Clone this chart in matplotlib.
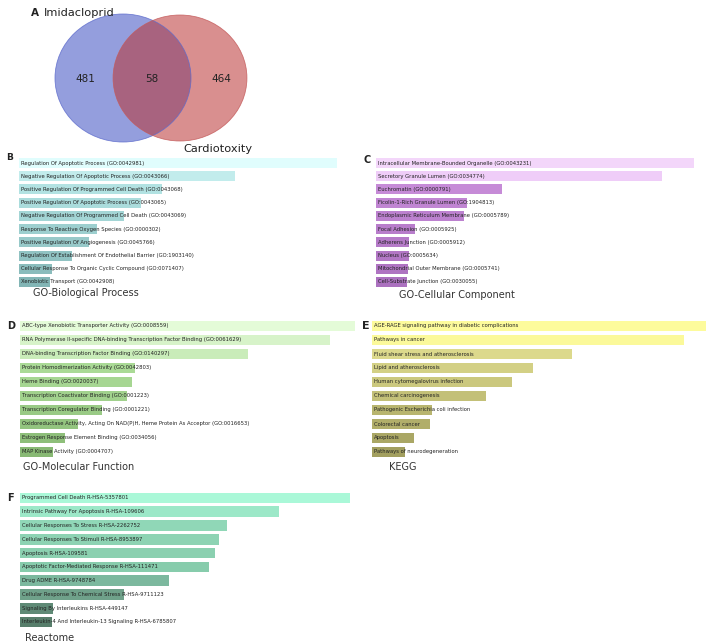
import matplotlib
matplotlib.use("Agg")
import matplotlib.pyplot as plt
from matplotlib.patches import Ellipse

# ---------------- data ----------------
venn_sets = ["Imidacloprid", "Cardiotoxity"]
venn_counts = [481, 58, 464]  # left only, shared, right only

bp_terms = [
    "Regulation Of Apoptotic Process (GO:0042981)",
    "Negative Regulation Of Apoptotic Process (GO:0043066)",
    "Positive Regulation Of Programmed Cell Death (GO:0043068)",
    "Positive Regulation Of Apoptotic Process (GO:0043065)",
    "Negative Regulation Of Programmed Cell Death (GO:0043069)",
    "Response To Reactive Oxygen Species (GO:0000302)",
    "Positive Regulation Of Angiogenesis (GO:0045766)",
    "Regulation Of Establishment Of Endothelial Barrier (GO:1903140)",
    "Cellular Response To Organic Cyclic Compound (GO:0071407)",
    "Xenobiotic Transport (GO:0042908)",
]
bp_scores = [318, 216, 143, 122, 105, 78, 70, 53, 33, 31]

cc_terms = [
    "Intracellular Membrane-Bounded Organelle (GO:0043231)",
    "Secretory Granule Lumen (GO:0034774)",
    "Euchromatin (GO:0000791)",
    "Ficolin-1-Rich Granule Lumen (GO:1904813)",
    "Endoplasmic Reticulum Membrane (GO:0005789)",
    "Focal Adhesion (GO:0005925)",
    "Adherens Junction (GO:0005912)",
    "Nucleus (GO:0005634)",
    "Mitochondrial Outer Membrane (GO:0005741)",
    "Cell-Substrate Junction (GO:0030055)",
]
cc_scores = [318, 286, 126, 91, 88, 39, 33, 33, 32, 31]

mf_terms = [
    "ABC-type Xenobiotic Transporter Activity (GO:0008559)",
    "RNA Polymerase II-specific DNA-binding Transcription Factor Binding (GO:0061629)",
    "DNA-binding Transcription Factor Binding (GO:0140297)",
    "Protein Homodimerization Activity (GO:0042803)",
    "Heme Binding (GO:0020037)",
    "Transcription Coactivator Binding (GO:0001223)",
    "Transcription Coregulator Binding (GO:0001221)",
    "Oxidoreductase Activity, Acting On NAD(P)H, Heme Protein As Acceptor (GO:0016653)",
    "Estrogen Response Element Binding (GO:0034056)",
    "MAP Kinase Activity (GO:0004707)",
]
mf_scores = [335, 310, 228, 115, 112, 107, 82, 58, 45, 33]

kegg_terms = [
    "AGE-RAGE signaling pathway in diabetic complications",
    "Pathways in cancer",
    "Fluid shear stress and atherosclerosis",
    "Lipid and atherosclerosis",
    "Human cytomegalovirus infection",
    "Chemical carcinogenesis",
    "Pathogenic Escherichia coli infection",
    "Colorectal cancer",
    "Apoptosis",
    "Pathways of neurodegeneration",
]
kegg_scores = [334, 312, 200, 161, 140, 114, 60, 58, 42, 33]

react_terms = [
    "Programmed Cell Death R-HSA-5357801",
    "Intrinsic Pathway For Apoptosis R-HSA-109606",
    "Cellular Responses To Stress R-HSA-2262752",
    "Cellular Responses To Stimuli R-HSA-8953897",
    "Apoptosis R-HSA-109581",
    "Apoptotic Factor-Mediated Response R-HSA-111471",
    "Drug ADME R-HSA-9748784",
    "Cellular Response To Chemical Stress R-HSA-9711123",
    "Signaling By Interleukins R-HSA-449147",
    "Interleukin-4 And Interleukin-13 Signaling R-HSA-6785807",
]
react_scores = [330, 259, 207, 199, 195, 189, 149, 104, 33, 32]

# ---------------- styles ----------------
bp_colors = ["#e0fdfd", "#c2ecec", "#b2e2e2", "#aadcdc", "#a3d5d5",
             "#9dcfcf", "#97c9c9", "#90c2c2", "#8abcbc", "#82b5b5"]
cc_colors = ["#f3d6fa", "#efcdf8", "#c68bd7", "#c085d2", "#bc81cf",
             "#b87dcb", "#b57ac8", "#b277c5", "#af74c2", "#ab71bf"]
mf_colors = ["#e4fbd8", "#d7f3c9", "#c9ecb9", "#aada96", "#a6d692",
             "#a1d18d", "#99ca85", "#93c47f", "#8ebf7a", "#88b974"]
kegg_colors = ["#fdfb9c", "#fbf99a", "#dcd98c", "#d3d085", "#cbc87e",
               "#c3c078", "#b8b56f", "#b1ae6a", "#aaa765", "#a29f5f"]
react_colors = ["#aaf8d8", "#9ce8c8", "#90d7b7", "#8dd3b3", "#8bd0b0",
                "#87ccac", "#7cb89e", "#6fa18a", "#5f8a76", "#577e6b"]

W, H = 708, 643
fig = plt.figure(figsize=(W / 100, H / 100), dpi=100)
fig.patch.set_facecolor("white")

# overlay axes in pixel coordinates for Venn and free text
ov = fig.add_axes([0, 0, 1, 1])
ov.set_xlim(0, W)
ov.set_ylim(H, 0)
ov.axis("off")

# Venn diagram
left_total = venn_counts[0] + venn_counts[1]
right_total = venn_counts[2] + venn_counts[1]
base_w, base_h = 136, 128
rl = (left_total / left_total) ** 0.5
rr = (right_total / left_total) ** 0.5
ov.add_patch(Ellipse((123, 78), base_w * rl, base_h * rl, facecolor="#3c4fc1",
                     alpha=0.55, edgecolor="none"))
ov.add_patch(Ellipse((180, 78), base_w * rr, base_h * rr, facecolor="#ba3333",
                     alpha=0.55, edgecolor="none"))
ov.add_patch(Ellipse((123, 78), base_w * rl, base_h * rl, facecolor="none",
                     edgecolor="#5d6bcc", lw=0.6, alpha=0.8))
ov.add_patch(Ellipse((180, 78), base_w * rr, base_h * rr, facecolor="none",
                     edgecolor="#c45a5a", lw=0.6, alpha=0.8))
for x, c in zip([85, 152, 221], venn_counts):
    ov.text(x, 79, str(c), ha="center", va="center", fontsize=7.5, color="#222222")
ov.text(44, 13, venn_sets[0], ha="left", va="center", fontsize=8.2, color="#222222")
ov.text(183, 149, venn_sets[1], ha="left", va="center", fontsize=8.2, color="#222222")
ov.text(31, 13, "A", ha="left", va="center", fontsize=7.5, fontweight="bold", color="#222222")

# panel letters
for x, y, s, fs in [(6, 157, "B", 6.5), (363, 160, "C", 7), (7, 326, "D", 7),
                    (362, 326, "E", 8), (7, 498, "F", 7)]:
    ov.text(x, y, s, ha="left", va="center", fontsize=fs, fontweight="bold", color="#222222")

# panel titles
for x, y, s in [(33, 293, "GO-Biological Process"), (399, 295, "GO-Cellular Component"),
                (23, 467, "GO-Molecular Function"), (389, 467, "KEGG"),
                (25, 638, "Reactome")]:
    ov.text(x, y, s, ha="left", va="center", fontsize=7, color="#333333")


def bar_panel(terms, scores, colors, x0, y_first, y_last, hfrac):
    n = len(terms)
    step = (y_last - y_first) / (n - 1)
    top = y_first - step / 2
    bot = y_last + step / 2
    width = max(scores)
    ax = fig.add_axes([x0 / W, 1 - bot / H, width / W, (bot - top) / H])
    ypos = list(range(n))
    ax.barh(ypos, scores, height=hfrac, color=colors, edgecolor="none")
    ax.set_xlim(0, width)
    ax.set_ylim(n - 0.5, -0.5)
    ax.axis("off")
    for y, t in zip(ypos, terms):
        ax.text(width * 0.006, y, t, ha="left", va="center", fontsize=3.8,
                color="#222222", clip_on=False)
    return ax


bar_panel(bp_terms, bp_scores, bp_colors, 19, 163, 282, 0.76)
bar_panel(cc_terms, cc_scores, cc_colors, 376, 163, 282, 0.76)
bar_panel(mf_terms, mf_scores, mf_colors, 20, 326, 452, 0.78)
bar_panel(kegg_terms, kegg_scores, kegg_colors, 372, 326, 452, 0.78)
bar_panel(react_terms, react_scores, react_colors, 20, 498, 622, 0.78)

fig.savefig("out.png", dpi=100, facecolor="white")
